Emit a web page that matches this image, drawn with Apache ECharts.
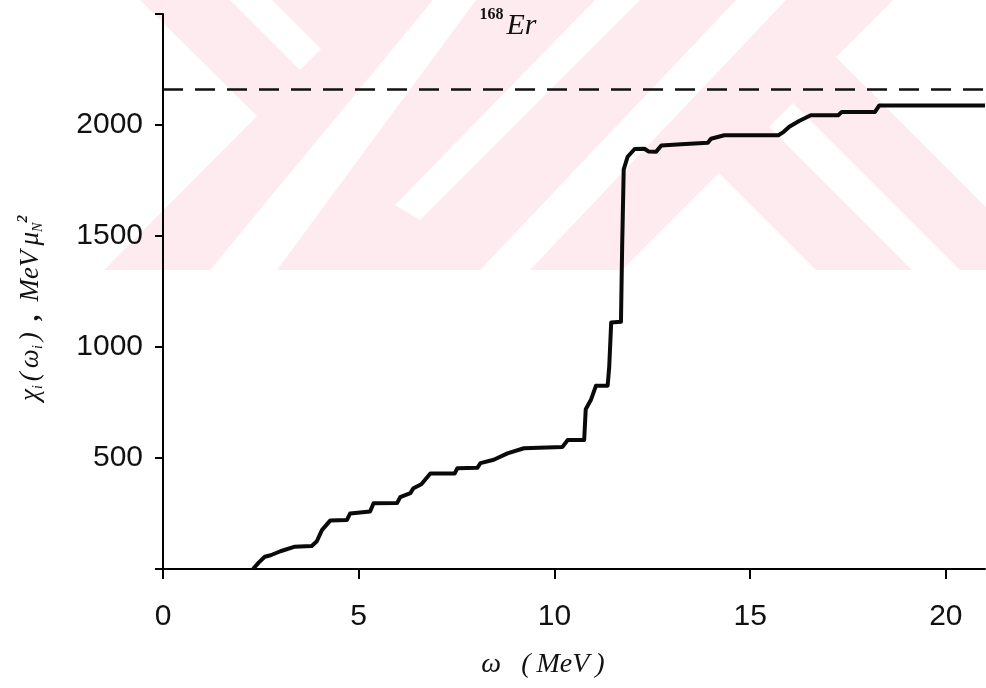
<!DOCTYPE html>
<html>
<head>
<meta charset="utf-8">
<script src="https://cdn.jsdelivr.net/npm/echarts@6/dist/echarts.min.js"></script>
<style>
  html, body { margin: 0; padding: 0; background: #ffffff; }
  #chart { width: 986px; height: 688px; }
</style>
</head>
<body>
<div id="chart"></div>
<script>
// Running sum of the M1 strength, chi_i(omega_i), against excitation energy omega for 168Er
const omegaMeV = [
  2.30, 2.45, 2.60, 2.75, 3.00, 3.35, 3.80, 3.93, 4.06, 4.27,
  4.70, 4.78, 5.29, 5.38, 5.98, 6.06, 6.32, 6.40, 6.60, 6.83,
  7.45, 7.52, 8.03, 8.11, 8.45, 8.80, 9.22, 10.20, 10.34, 10.76,
  10.80, 10.93, 11.06, 11.36, 11.40, 11.45, 11.70, 11.73, 11.77, 11.87,
  12.05, 12.30, 12.40, 12.60, 12.73, 13.24, 13.92, 14.00, 14.34, 15.72,
  15.85, 16.00, 16.25, 16.55, 17.25, 17.34, 18.19, 18.30, 21.00
];
const chiSum = [
  0, 30, 55, 62, 80, 100, 104, 125, 175, 218,
  221, 250, 259, 296, 297, 324, 342, 364, 382, 430,
  430, 454, 456, 477, 492, 521, 544, 549, 581, 581,
  720, 761, 825, 826, 911, 1110, 1114, 1450, 1800, 1857,
  1892, 1893, 1881, 1880, 1908, 1913, 1920, 1938, 1954, 1954,
  1968, 1992, 2018, 2044, 2044, 2058, 2059, 2088, 2088
];
// Sum-rule limit drawn as the dashed horizontal line
const sumRuleLimit = 2160;
const xRange = [0, 21];
const yRange = [0, 2500];
const xTickStep = 5;
const yTickStep = 500;
const yLabelled = [500, 1000, 1500, 2000];

const curve = omegaMeV.map((w, i) => [w, chiSum[i]]);
const limitLine = [[xRange[0], sumRuleLimit], [xRange[1], sumRuleLimit]];

// Pale background emblem behind the upper part of the plot
const PINK = '#fdebef';
const emblem = [
  { type: 'rect', shape: { x: 100, y: 0, width: 886, height: 270 }, style: { fill: PINK } },
  { type: 'polygon', shape: { points: [[0, 0], [140, 0], [257, 116], [104, 270], [0, 270]] }, style: { fill: '#fff' } },
  { type: 'polygon', shape: { points: [[230, 0], [272, 0], [321, 49], [300, 70]] }, style: { fill: '#fff' } },
  { type: 'polygon', shape: { points: [[433, 0], [476, 0], [277, 270], [210, 270]] }, style: { fill: '#fff' } },
  { type: 'polygon', shape: { points: [[595, 0], [640, 0], [420, 220], [395, 205]] }, style: { fill: '#fff' } },
  { type: 'polygon', shape: { points: [[736, 0], [786, 0], [530, 270], [480, 270]] }, style: { fill: '#fff' } },
  { type: 'polygon', shape: { points: [[719, 173], [816, 270], [622, 270]] }, style: { fill: '#fff' } },
  { type: 'polygon', shape: { points: [[769, 127], [793, 103], [960, 270], [912, 270]] }, style: { fill: '#fff' } },
  { type: 'polygon', shape: { points: [[893, 0], [986, 0], [986, 207], [836, 57]] }, style: { fill: '#fff' } }
].map(e => Object.assign(e, { z: -100, silent: true }));

const serif = '"Liberation Serif", "DejaVu Serif", serif';
const ink = '#111';

const chart = echarts.init(document.getElementById('chart'), null, { renderer: 'canvas' });
chart.setOption({
  backgroundColor: '#ffffff',
  animation: false,
  grid: { left: 163, right: 1, top: 14, bottom: 119, containLabel: false },
  xAxis: {
    type: 'value',
    min: xRange[0], max: xRange[1], interval: xTickStep,
    axisLine: { onZero: false, lineStyle: { color: '#000', width: 2 } },
    axisTick: { show: true, inside: false, length: 10, lineStyle: { color: '#000', width: 2 } },
    axisLabel: {
      margin: 33, color: ink,
      fontFamily: '"Liberation Sans", Arial, sans-serif', fontSize: 30,
      formatter: v => (v > 20 ? '' : String(v)), showMaxLabel: false
    },
    splitLine: { show: false }
  },
  yAxis: {
    type: 'value',
    min: yRange[0], max: yRange[1], interval: yTickStep,
    axisLine: { show: true, lineStyle: { color: '#000', width: 2 } },
    axisTick: { show: true, inside: false, length: 8, lineStyle: { color: '#000', width: 2 } },
    axisLabel: {
      margin: 20, color: ink,
      fontFamily: '"Liberation Sans", Arial, sans-serif', fontSize: 30,
      formatter: v => (yLabelled.includes(v) ? String(v) : '')
    },
    splitLine: { show: false }
  },
  graphic: emblem.concat([
    {
      type: 'text', x: 508, y: 22, z: 100, silent: true,
      style: {
        text: '{m|168}{e|Er}', textAlign: 'center', textVerticalAlign: 'middle',
        rich: {
          m: { fontFamily: serif, fontWeight: 'bold', fontSize: 16, fill: ink, padding: [0, 3, 14, 0] },
          e: { fontFamily: serif, fontStyle: 'italic', fontSize: 30, fill: ink, padding: [8, 0, 0, 0] }
        }
      }
    },
    {
      type: 'text', x: 543, y: 665, z: 100, silent: true,
      style: {
        text: '{w|ω}{p|(}{t|MeV}{q|)}', textAlign: 'center', textVerticalAlign: 'middle',
        rich: {
          w: { fontFamily: serif, fontStyle: 'italic', fontSize: 28, fill: ink },
          p: { fontFamily: serif, fontStyle: 'italic', fontSize: 28, fill: ink, padding: [0, 6, 0, 20] },
          t: { fontFamily: serif, fontStyle: 'italic', fontSize: 28, fill: ink },
          q: { fontFamily: serif, fontStyle: 'italic', fontSize: 28, fill: ink, padding: [0, 0, 0, 6] }
        }
      }
    },
    {
      type: 'text', x: 31, y: 308, rotation: Math.PI / 2, z: 100, silent: true,
      style: {
        text: '{b|χ}{s|i}{g|(}{b|ω}{s|i}{g|)}{c|,}{b|MeV}{m|μ}{s|N}{p|2}',
        textAlign: 'center', textVerticalAlign: 'middle',
        rich: {
          b: { fontFamily: serif, fontStyle: 'italic', fontSize: 27, fill: ink },
          g: { fontFamily: serif, fontStyle: 'italic', fontSize: 27, fill: ink, padding: [0, 4, 0, 4] },
          c: { fontFamily: serif, fontStyle: 'italic', fontWeight: 'bold', fontSize: 27, fill: ink, padding: [0, 12, 0, 8] },
          m: { fontFamily: serif, fontStyle: 'italic', fontSize: 27, fill: ink, padding: [0, 0, 0, 5] },
          s: { fontFamily: serif, fontStyle: 'italic', fontSize: 14, fill: ink, padding: [14, 0, 0, 0] },
          p: { fontFamily: serif, fontStyle: 'italic', fontWeight: 'bold', fontSize: 15, fill: ink, padding: [0, 0, 16, 0] }
        }
      }
    }
  ]),
  series: [
    {
      type: 'line', data: limitLine, symbol: 'none', silent: true,
      lineStyle: { color: ink, width: 2.5, type: [20, 12] }, z: 3
    },
    {
      type: 'line', data: curve, symbol: 'none', silent: true,
      lineStyle: { color: '#0a0a0a', width: 4, join: 'round' }, z: 4
    }
  ]
});
</script>
</body>
</html>
